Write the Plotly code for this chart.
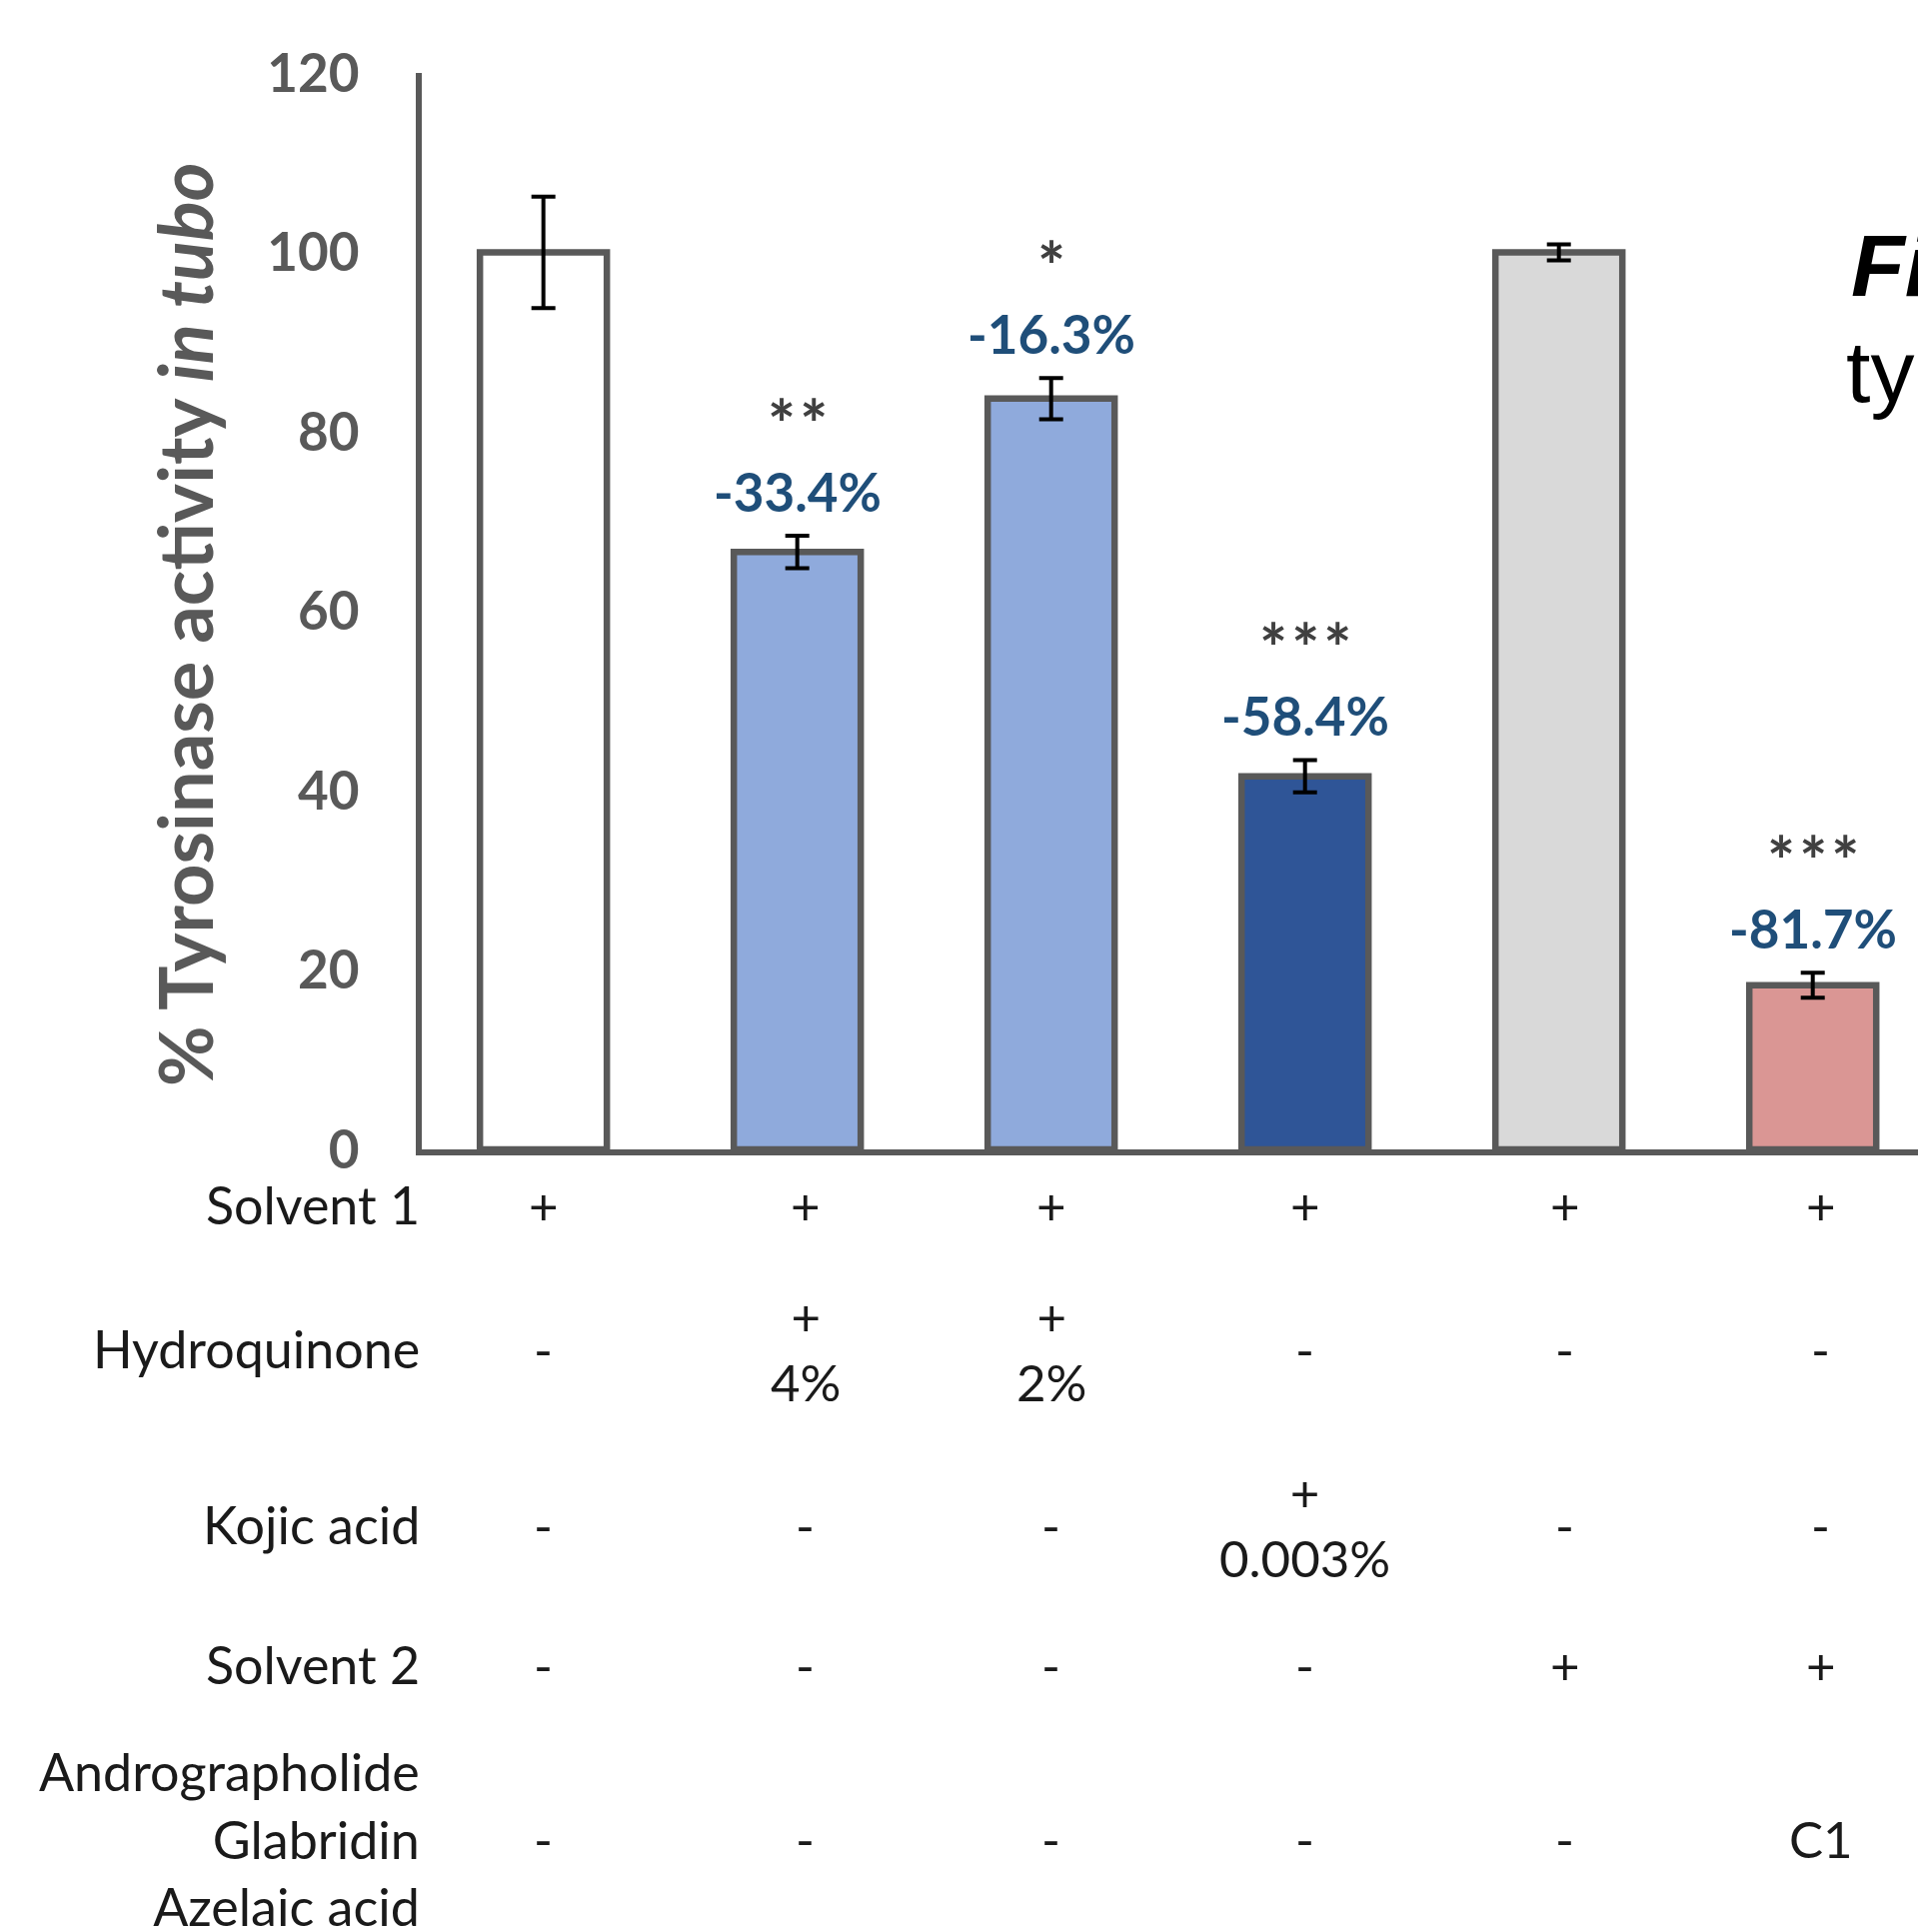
import plotly.graph_objects as go

# ---------------- data ----------------
categories = ["Control 1", "HQ 4%", "HQ 2%", "Kojic acid", "Control 2", "C1"]
values = [100, 66.6, 83.7, 41.6, 100, 18.3]
errors = [6.2, 1.8, 2.3, 1.8, 0.9, 1.4]
bar_colors = ["#FFFFFF", "#8FAADC", "#8FAADC", "#2F5597", "#D9D9D9", "#DA9694"]
pct_labels = ["", "-33.4%", "-16.3%", "-58.4%", "", "-81.7%"]
sig_labels = ["", "**", "*", "***", "", "***"]
y_ticks = [0, 20, 40, 60, 80, 100, 120]

row_labels = ["Solvent 1", "Hydroquinone", "Kojic acid", "Solvent 2",
              "Andrographolide<br>Glabridin<br>Azelaic acid"]
row_solvent1 = ["+", "+", "+", "+", "+", "+"]
row_hydroquinone = ["-", "+<br>4%", "+<br>2%", "-", "-", "-"]
row_kojic = ["-", "-", "-", "+<br>0.003%", "-", "-"]
row_solvent2 = ["-", "-", "-", "-", "+", "+"]
row_compound = ["-", "-", "-", "-", "-", "C1"]
table_rows = [row_solvent1, row_hydroquinone, row_kojic, row_solvent2, row_compound]

# ---------------- layout constants (figure pixel coords) ----------------
W, H = 1919, 1925
AX_LEFT = 414
Y0_PX, Y120_PX = 1142, 65
row_px = [1197, 1341, 1517, 1657, 1831]
col_shift = [0, 8, 0, 0, 6, 8]

def py(px):
    return 1 - px / H

FONT = "Lato"
GRAY = "#595959"
HS = "\u200a"

fig = go.Figure()
fig.add_trace(go.Bar(
    x=categories, y=values, width=0.5,
    marker=dict(color=bar_colors, line=dict(color=GRAY, width=6.5)),
    error_y=dict(type="data", array=errors, color="black", thickness=4, width=12),
    hoverinfo="skip",
))

annotations = []
# percent labels and significance stars
for c, v, e, p, s in zip(categories, values, errors, pct_labels, sig_labels):
    if p:
        annotations.append(dict(x=c, y=v + e, xref="x", yref="y", text=f"<b>{p}</b>",
                                showarrow=False, yanchor="middle", yshift=45,
                                font=dict(family=FONT, size=53, color="#1F4E79")))
    if s:
        annotations.append(dict(x=c, y=v + e, xref="x", yref="y",
                                text="<b>" + HS.join(s) + "</b>",
                                showarrow=False, yanchor="middle", yshift=113,
                                font=dict(family=FONT, size=66, color="#404040")))

# y axis title
annotations.append(dict(x=176 / W, y=py(617), xref="paper", yref="paper",
                        text="<b>% Tyrosinase activity <i>in tubo</i></b>",
                        textangle=-90, showarrow=False, xanchor="center", yanchor="middle",
                        font=dict(family=FONT, size=74, color=GRAY)))

# table
for lab, ypx, row in zip(row_labels, row_px, table_rows):
    annotations.append(dict(x=AX_LEFT / W, y=py(ypx), xref="paper", yref="paper",
                            text=lab, showarrow=False, xanchor="right", yanchor="middle",
                            align="right",
                            font=dict(family=FONT, size=52, color="#1A1A1A")))
    for c, cell, dx in zip(categories, row, col_shift):
        annotations.append(dict(x=c, y=py(ypx), xref="x", yref="paper", text=cell,
                                showarrow=False, xanchor="center", yanchor="middle",
                                align="center", xshift=dx,
                                font=dict(family=FONT, size=51, color="#1A1A1A")))

# caption fragment at right edge
annotations.append(dict(x=1842 / W, y=py(257), xref="paper", yref="paper",
                        text="<b><i>Figure</i></b>", showarrow=False,
                        xanchor="left", yanchor="middle",
                        font=dict(family="Liberation Sans", size=88, color="black")))
annotations.append(dict(x=1837 / W, y=py(363), xref="paper", yref="paper",
                        text="tyrosinase", showarrow=False,
                        xanchor="left", yanchor="middle",
                        font=dict(family="Liberation Sans", size=88, color="black")))

fig.update_layout(
    width=W, height=H,
    margin=dict(l=0, r=0, t=0, b=0, autoexpand=False),
    paper_bgcolor="white", plot_bgcolor="white",
    showlegend=False,
    annotations=annotations,
    xaxis=dict(domain=[AX_LEFT / W, 1.0], range=[-0.479, 5.446], automargin=False,
               showline=True, linecolor=GRAY, linewidth=6,
               showticklabels=False, ticks="", showgrid=False, zeroline=False),
    yaxis=dict(domain=[py(Y0_PX), py(Y120_PX)], range=[0, 120], automargin=False,
               tickvals=y_ticks, ticktext=[f"<b>{t}</b>" for t in y_ticks],
               showline=True, linecolor=GRAY, linewidth=6,
               ticks="", showgrid=False, zeroline=False,
               ticklabelstandoff=46,
               tickfont=dict(family=FONT, size=53, color=GRAY)),
)

fig.write_html("out.html")
